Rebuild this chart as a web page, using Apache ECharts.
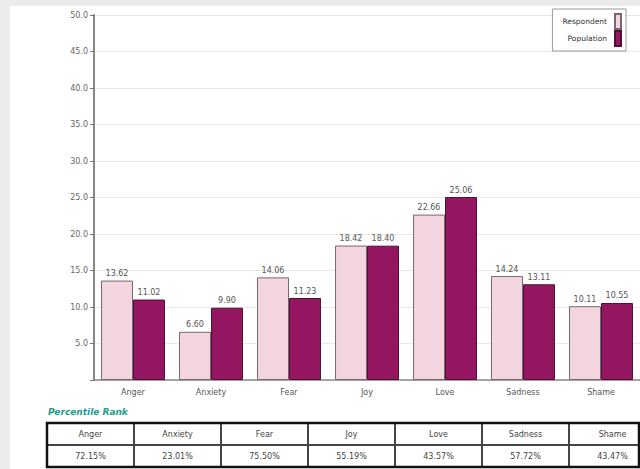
<!DOCTYPE html>
<html>
<head>
<meta charset="utf-8">
<script src="https://cdn.jsdelivr.net/npm/echarts@6/dist/echarts.min.js"></script>
<style>
html,body{margin:0;padding:0;}
#wrap{position:relative;width:640px;height:469px;background:#ebebeb;overflow:hidden;}
#panel{position:absolute;left:10px;top:6px;width:630px;height:463px;background:#fff;}
#chart{position:absolute;left:0;top:0;width:640px;height:469px;}
</style>
</head>
<body>
<div id="wrap"><div id="panel"></div><div id="chart"></div></div>
<script>
var categories = ['Anger','Anxiety','Fear','Joy','Love','Sadness','Shame'];
var respondent = [13.62, 6.60, 14.06, 18.42, 22.66, 14.24, 10.11];
var population = [11.02, 9.90, 11.23, 18.40, 25.06, 13.11, 10.55];
var yTicks = ['5.0','10.0','15.0','20.0','25.0','30.0','35.0','40.0','45.0','50.0'];
var percentileTitle = 'Percentile Rank';
var percentileValues = ['72.15%','23.01%','75.50%','55.19%','43.57%','57.72%','43.47%'];

var FONT = 'DejaVu Sans';
var chart = echarts.init(document.getElementById('chart'), null, {renderer:'svg'});

// table graphics
var tLeft = 47, tTop = 423, colW = 87, rowH = 22, tRight = 639;
var g = [];
g.push({type:'text', left: 48, top: 407, style:{text: percentileTitle, fill:'#1c9c8c', font:'italic bold 9px ' + FONT}});
for (var i = 0; i < categories.length; i++) {
  var x0 = tLeft + i * colW;
  var x1 = Math.min(x0 + colW, tRight);
  var w = x1 - x0;
  g.push({type:'rect', shape:{x:x0, y:tTop, width:w, height:rowH}, style:{fill:'#fff', stroke:'#444', lineWidth:2}});
  g.push({type:'rect', shape:{x:x0, y:tTop+rowH, width:w, height:rowH}, style:{fill:'#fff', stroke:'#444', lineWidth:2}});
  g.push({type:'text', x: x0 + colW/2, y: tTop + rowH/2, style:{text: categories[i], fill:'#444', font:'8px ' + FONT, textAlign:'center', textVerticalAlign:'middle'}});
  g.push({type:'text', x: x0 + colW/2, y: tTop + rowH*1.5, style:{text: percentileValues[i], fill:'#444', font:'8px ' + FONT, textAlign:'center', textVerticalAlign:'middle'}});
}
g.push({type:'rect', shape:{x:tLeft, y:tTop, width:tRight-tLeft, height:rowH*2}, style:{fill:'none', stroke:'#111', lineWidth:2.5}});

var labelStyle = {show:true, position:'top', distance:3, fontSize:8, fontFamily:FONT, color:'#555',
  formatter: function(p){ return p.value.toFixed(2); }};

chart.setOption({
  backgroundColor: 'transparent',
  animation: false,
  textStyle: {fontFamily: FONT},
  grid: {left: 94, top: 15, width: 546, height: 365, containLabel: false},
  legend: {
    orient: 'vertical', right: 14, top: 9, align: 'right',
    itemWidth: 6, itemHeight: 15, itemGap: 0,
    borderColor: '#999', borderWidth: 1, padding: [4,4,4,10],
    backgroundColor: '#fff',
    textStyle: {fontSize: 7.5, color: '#333', fontFamily: FONT, padding:[0,3,0,0]},
    data: [{name:'Respondent', icon:'rect'}, {name:'Population', icon:'rect'}]
  },
  xAxis: {
    type: 'category', data: categories,
    axisLine: {lineStyle: {color: '#888', width: 1.5}},
    axisTick: {show: false},
    axisLabel: {fontSize: 8, color: '#555', margin: 8, fontFamily: FONT}
  },
  yAxis: {
    type: 'value', min: 0, max: 50, interval: 5,
    axisLine: {show: true, lineStyle: {color: '#888', width: 2}},
    axisTick: {show: true, length: 4, lineStyle: {color: '#777'}},
    axisLabel: {fontSize: 8, color: '#666', margin: 6, fontFamily: FONT,
      formatter: function(v){ return v === 0 ? '' : v.toFixed(1); }},
    splitLine: {lineStyle: {color: '#e8e8e8', width: 1}}
  },
  series: [
    {name: 'Respondent', type: 'bar', data: respondent, barGap: '0%', barCategoryGap: '18%',
     itemStyle: {color: '#f3d5e0', borderColor: '#7a6870', borderWidth: 1},
     label: labelStyle},
    {name: 'Population', type: 'bar', data: population,
     itemStyle: {color: '#951660', borderColor: '#4e1034', borderWidth: 1},
     label: labelStyle}
  ],
  graphic: g
});
</script>
</body>
</html>
